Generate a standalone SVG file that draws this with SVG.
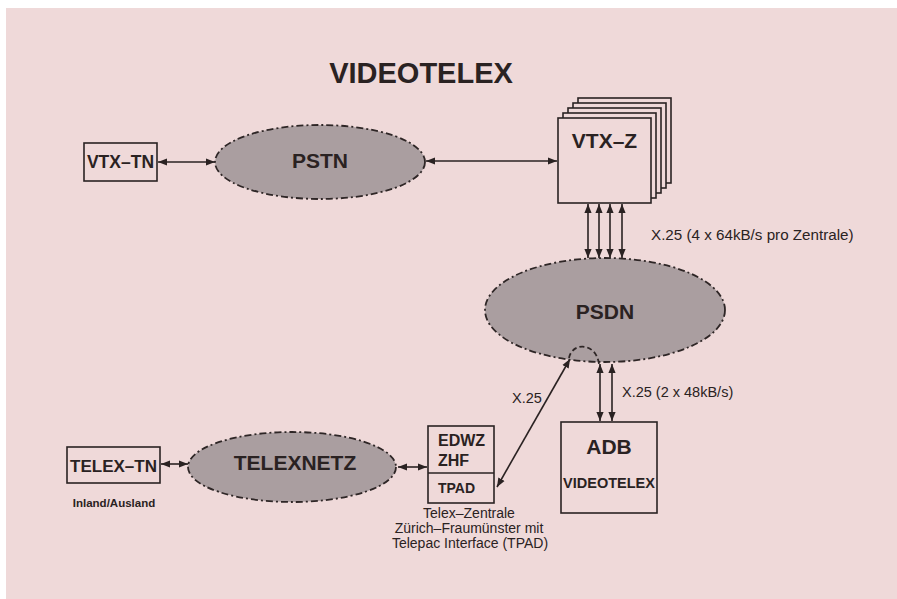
<svg xmlns="http://www.w3.org/2000/svg" width="897" height="599" viewBox="0 0 897 599">
<style>
text{font-family:"Liberation Sans",Arial,sans-serif;fill:#2a2222}
.b{font-weight:bold}
.box{fill:none;stroke:#2a2222;stroke-width:1.6}
.fbox{fill:#efd9d9;stroke:#2a2222;stroke-width:1.6}
.cloud{fill:#aa9ea0;stroke:#2e2626;stroke-width:1.8;stroke-dasharray:7 3 2 3}
.ln{stroke:#2a2222;stroke-width:1.6;fill:none;marker-start:url(#ah);marker-end:url(#ah)}
</style>
<defs>
<marker id="ah" viewBox="0 0 10 10" refX="10" refY="5" markerWidth="9" markerHeight="9" markerUnits="userSpaceOnUse" orient="auto-start-reverse">
<path d="M0,1 L10,5 L0,9 z" fill="#2a2222"/>
</marker>
</defs>
<rect x="0" y="0" width="897" height="599" fill="#ffffff"/>
<rect x="6" y="8" width="891" height="591" fill="#efd9d9"/>
<text class="b" x="421" y="83" font-size="29" text-anchor="middle">VIDEOTELEX</text>

<g id="connectors">
<line class="ln" x1="158" y1="162" x2="215" y2="162"/>
<line class="ln" x1="426" y1="161" x2="557" y2="161"/>
<line class="ln" x1="588" y1="204" x2="588" y2="258"/>
<line class="ln" x1="599" y1="204" x2="599" y2="258"/>
<line class="ln" x1="610" y1="204" x2="610" y2="258"/>
<line class="ln" x1="622" y1="204" x2="622" y2="258"/>
<line class="ln" x1="600" y1="364" x2="600" y2="421"/>
<line class="ln" x1="612" y1="364" x2="612" y2="421"/>
<line class="ln" x1="497" y1="487" x2="570" y2="359"/>
<line class="ln" x1="161" y1="464" x2="188" y2="464"/>
<line class="ln" x1="398" y1="467" x2="427" y2="467"/>
<text x="651" y="240" font-size="15.2">X.25 (4 x 64kB/s pro Zentrale)</text>
<text x="512" y="403" font-size="14.5">X.25</text>
<text x="622" y="397" font-size="14.5">X.25 (2 x 48kB/s)</text>
</g>

<g id="vtx-tn">
<rect class="box" x="84" y="143" width="73" height="38"/>
<text class="b" x="120.5" y="168" font-size="17.5" text-anchor="middle">VTX–TN</text>
</g>

<g id="pstn">
<ellipse class="cloud" cx="320" cy="162" rx="105" ry="37"/>
<text class="b" x="320" y="168" font-size="21" text-anchor="middle">PSTN</text>
</g>

<g id="vtx-z">
<rect class="fbox" x="578" y="98" width="93" height="85"/>
<rect class="fbox" x="573" y="103" width="93" height="85"/>
<rect class="fbox" x="568" y="108" width="93" height="85"/>
<rect class="fbox" x="563" y="113" width="93" height="85"/>
<rect class="fbox" x="558" y="118" width="93" height="85"/>
<text class="b" x="604.5" y="148" font-size="21" text-anchor="middle">VTX–Z</text>
</g>

<g id="psdn">
<ellipse class="cloud" cx="605" cy="310" rx="120" ry="52"/>
<path d="M569,358 C572,342 596,342 599,364" fill="none" stroke="#2e2626" stroke-width="1.8" stroke-dasharray="5 3"/>
<text class="b" x="605" y="319" font-size="21" text-anchor="middle">PSDN</text>
</g>

<g id="adb">
<rect class="box" x="561" y="422" width="96" height="91"/>
<text class="b" x="609" y="454" font-size="21" text-anchor="middle">ADB</text>
<text class="b" x="609" y="488" font-size="14.5" text-anchor="middle">VIDEOTELEX</text>
</g>

<g id="edwz">
<rect class="box" x="428" y="426" width="66" height="77"/>
<line x1="428" y1="473" x2="494" y2="473" stroke="#2a2222" stroke-width="1.6"/>
<text class="b" x="438" y="446" font-size="16">EDWZ</text>
<text class="b" x="438" y="466" font-size="16">ZHF</text>
<text class="b" x="438" y="493" font-size="14">TPAD</text>
<text x="469" y="518" font-size="14" text-anchor="middle">Telex–Zentrale</text>
<text x="469" y="533" font-size="14" text-anchor="middle">Zürich–Fraumünster mit</text>
<text x="470" y="548" font-size="14" text-anchor="middle">Telepac Interface (TPAD)</text>
</g>

<g id="telexnetz">
<ellipse class="cloud" cx="292" cy="467" rx="104" ry="35"/>
<text class="b" x="295" y="470" font-size="21" text-anchor="middle">TELEXNETZ</text>
</g>

<g id="telex-tn">
<rect class="box" x="67" y="447" width="93" height="36"/>
<text class="b" x="113.5" y="472" font-size="17" text-anchor="middle">TELEX–TN</text>
<text class="b" x="114" y="507" font-size="11.5" text-anchor="middle">Inland/Ausland</text>
</g>
</svg>
